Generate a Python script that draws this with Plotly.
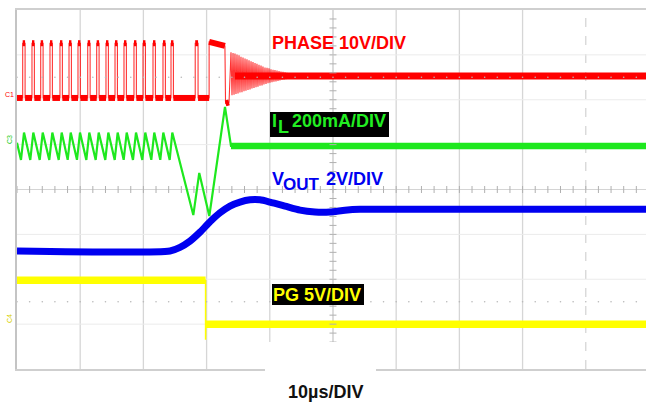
import plotly.graph_objects as go

# ---------------- data (time in µs, 10 µs/div; levels in screen divisions) ----------------
T_END = 99.53

# PHASE 10V/DIV
PHASE_LOW = 2.04
PHASE_HIGH = 3.26
PHASE_PULSE_START = [0.90, 2.37, 3.75, 5.22, 6.80, 8.23, 9.65, 11.19, 12.61, 14.08,
                     15.51, 16.93, 18.51, 19.94, 21.52, 23.10, 24.37, 28.20]
PHASE_PULSE_END = [1.28, 2.75, 4.13, 5.60, 7.18, 8.61, 10.03, 11.57, 12.99, 14.46,
                   15.89, 17.31, 18.89, 20.32, 21.90, 23.48, 24.75, 28.65]
PHASE_PLATEAU_T = [30.40, 32.90]
PHASE_PLATEAU_V = [3.29, 3.20]
PHASE_DIP_T = [33.00, 33.55]
PHASE_DIP_V = [1.92, 1.94]
PHASE_RING_T = [33.86, 34.02, 34.18, 34.34, 34.49, 34.65, 34.81, 34.97, 35.13, 35.28,
                35.44, 35.60, 35.76, 35.92, 36.08, 36.23, 36.39, 36.55, 36.71, 36.87,
                37.03, 37.18, 37.34, 37.50, 37.66, 37.82, 37.97, 38.13, 38.29, 38.45,
                38.61, 38.77, 38.92, 39.08, 39.24, 39.40, 39.56, 39.72, 39.87, 40.03,
                40.19, 40.35, 40.51, 40.66, 40.82, 40.98, 41.14, 41.30, 41.46, 41.61,
                41.77, 41.93, 42.09, 42.25, 42.41, 42.56, 42.72, 42.88, 43.04, 43.20]
PHASE_RING_V = [3.06, 2.10, 3.04, 2.11, 3.03, 2.13, 3.01, 2.14, 2.99, 2.16,
                2.96, 2.17, 2.94, 2.19, 2.92, 2.20, 2.90, 2.22, 2.88, 2.23,
                2.86, 2.25, 2.84, 2.26, 2.82, 2.28, 2.80, 2.29, 2.78, 2.31,
                2.76, 2.32, 2.74, 2.34, 2.72, 2.35, 2.71, 2.37, 2.70, 2.38,
                2.68, 2.39, 2.67, 2.40, 2.66, 2.41, 2.65, 2.42, 2.64, 2.43,
                2.63, 2.44, 2.62, 2.45, 2.61, 2.46, 2.60, 2.47, 2.59, 2.48]
PHASE_SETTLED = 2.53
PHASE_SETTLED_FROM = 34.5

# IL 200mA/DIV
IL_T = [0.00, 0.63, 1.11, 2.10, 2.58, 3.59, 4.07, 5.11, 5.59, 6.60, 7.07, 8.02, 8.50,
        9.49, 9.97, 10.97, 11.44, 12.45, 12.93, 13.97, 14.45, 15.46, 15.93, 16.88, 17.36,
        18.35, 18.83, 19.83, 20.30, 21.25, 21.72, 22.67, 23.15, 24.16, 24.57,
        27.90, 28.84, 30.43, 32.91, 33.86, T_END]
IL_V = [1.04, 0.66, 1.27, 0.66, 1.27, 0.66, 1.27, 0.66, 1.27, 0.66, 1.27, 0.66, 1.27,
        0.66, 1.27, 0.66, 1.27, 0.66, 1.27, 0.66, 1.27, 0.66, 1.27, 0.66, 1.27,
        0.66, 1.27, 0.66, 1.27, 0.66, 1.27, 0.66, 1.27, 0.66, 1.27,
        -0.57, 0.37, -0.59, 1.84, 0.97, 0.97]
IL_SETTLED_FROM = 33.86
IL_SETTLED = 0.97

# VOUT 2V/DIV
VOUT_T = [0.00, 24.21, 25.79, 27.37, 28.96, 30.54, 32.12, 33.70, 35.28, 36.87, 38.45,
          40.03, 42.41, 44.78, 47.15, 49.53, 51.90, 54.27, T_END]
VOUT_V = [-1.37, -1.37, -1.29, -1.15, -0.95, -0.72, -0.52, -0.37, -0.28, -0.23, -0.23,
          -0.28, -0.37, -0.46, -0.50, -0.50, -0.46, -0.44, -0.44]

# PG 5V/DIV
PG_T = [0.00, 29.84, 29.84, 29.88, T_END]
PG_V = [-2.02, -2.02, -3.35, -3.00, -3.00]

# ---------------- layout geometry helpers (pixel -> axis / paper) ----------------
W, H = 646, 405
ML, MR, MT, MB = 17, 0, 10, 36
PW, PH = W - ML - MR, H - MT - MB


def paper_x(px):
    return (px - ML) / PW


def paper_y(py):
    return 1 - (py - MT) / PH


RED = "#ff0000"
GREEN = "#1ee81e"
BLUE = "#0000f0"
YELLOW = "#ffff00"

fig = go.Figure()

# ---- PHASE thin waveform
px_, py_ = [0.0], [PHASE_LOW]
for s, e in zip(PHASE_PULSE_START, PHASE_PULSE_END):
    px_ += [s, s, e, e]
    py_ += [PHASE_LOW, PHASE_HIGH, PHASE_HIGH, PHASE_LOW]
px_ += [PHASE_PLATEAU_T[0], PHASE_PLATEAU_T[0], PHASE_PLATEAU_T[1]] + PHASE_DIP_T + PHASE_RING_T + [T_END]
py_ += [PHASE_LOW, PHASE_PLATEAU_V[0], PHASE_PLATEAU_V[1]] + PHASE_DIP_V + PHASE_RING_V + [PHASE_SETTLED]
fig.add_trace(go.Scatter(x=px_, y=py_, mode="lines", line=dict(color="rgba(255,0,0,0.8)", width=1.1),
                         hoverinfo="skip"))

# ---- PHASE thick levels
tx, ty = [], []
prev = 0.0
for s, e in zip(PHASE_PULSE_START, PHASE_PULSE_END):
    tx += [prev, s, None, s, e, None]
    ty += [PHASE_LOW, PHASE_LOW, None, PHASE_HIGH, PHASE_HIGH, None]
    prev = e
tx += [prev, PHASE_PLATEAU_T[0], None, PHASE_PLATEAU_T[0], PHASE_PLATEAU_T[1], None,
       PHASE_DIP_T[0], PHASE_DIP_T[1], None]
ty += [PHASE_LOW, PHASE_LOW, None, PHASE_PLATEAU_V[0], PHASE_PLATEAU_V[1], None,
       PHASE_DIP_V[0], PHASE_DIP_V[1], None]
fig.add_trace(go.Scatter(x=tx, y=ty, mode="lines", line=dict(color=RED, width=6),
                         hoverinfo="skip"))
fig.add_trace(go.Scatter(x=[PHASE_SETTLED_FROM, T_END], y=[PHASE_SETTLED, PHASE_SETTLED], mode="lines",
                         line=dict(color=RED, width=7), hoverinfo="skip"))

# ---- IL
fig.add_trace(go.Scatter(x=IL_T, y=IL_V, mode="lines", line=dict(color=GREEN, width=2.2),
                         hoverinfo="skip"))
fig.add_trace(go.Scatter(x=[IL_SETTLED_FROM, T_END], y=[IL_SETTLED, IL_SETTLED], mode="lines",
                         line=dict(color=GREEN, width=6.5), hoverinfo="skip"))

# ---- VOUT
fig.add_trace(go.Scatter(x=VOUT_T, y=VOUT_V, mode="lines",
                         line=dict(color=BLUE, width=7, shape="spline", smoothing=0.6),
                         hoverinfo="skip"))

# ---- PG
fig.add_trace(go.Scatter(x=PG_T, y=PG_V, mode="lines", line=dict(color=YELLOW, width=1.5),
                         hoverinfo="skip"))
fig.add_trace(go.Scatter(x=[PG_T[0], PG_T[1], None, PG_T[3], PG_T[4]],
                         y=[PG_V[0], PG_V[1], None, PG_V[3], PG_V[4]], mode="lines",
                         line=dict(color=YELLOW, width=7.5), hoverinfo="skip"))

# trigger marker
fig.add_trace(go.Scatter(x=[PG_T[1]], y=[-4.08], mode="markers", cliponaxis=False,
                         marker=dict(symbol="triangle-up", size=6, color="#e8d800"),
                         hoverinfo="skip"))

# ---- center crosshair ticks
tick_x = [i * 2.0 for i in range(0, 50)]
fig.add_trace(go.Scatter(x=tick_x, y=[0] * len(tick_x), mode="markers",
                         marker=dict(symbol="line-ns", size=5, line=dict(color="#b0b0b0", width=1)),
                         hoverinfo="skip"))
tick_y = [-4 + i * 0.2 for i in range(1, 40)]
fig.add_trace(go.Scatter(x=[50] * len(tick_y), y=tick_y, mode="markers",
                         marker=dict(symbol="line-ew", size=5, line=dict(color="#b0b0b0", width=1)),
                         hoverinfo="skip"))
for yy in (2.5, -2.5):
    fig.add_trace(go.Scatter(x=tick_x, y=[yy] * len(tick_x), mode="markers",
                             marker=dict(symbol="circle", size=1.6, color="#b8b8b8"),
                             hoverinfo="skip"))

# ---- grid shapes
shapes = []
for k in range(1, 10):
    shapes.append(dict(type="line", xref="x", yref="y", x0=k * 10, x1=k * 10, y0=-4, y1=4,
                       layer="below",
                       line=dict(color="#d6d6d6" if k != 5 else "#c8c8c8", width=1.3,
                                 dash="dash" if k == 9 else "solid")))
for j in (-3, -2, -1, 0, 1, 2, 3):
    shapes.append(dict(type="line", xref="x", yref="y", x0=0, x1=T_END, y0=j, y1=j, layer="below",
                       line=dict(color="#ebebeb" if j != 0 else "#d4d4d4", width=1)))
# white patch behind the time-base label
shapes.append(dict(type="rect", xref="paper", yref="paper", x0=paper_x(265), x1=paper_x(376),
                   y0=paper_y(405), y1=paper_y(342), fillcolor="white", line=dict(width=0), layer="above"))
# black label boxes
shapes.append(dict(type="rect", xref="paper", yref="paper", x0=paper_x(270), x1=paper_x(389),
                   y0=paper_y(137), y1=paper_y(112), fillcolor="black", line=dict(width=0), layer="above"))
shapes.append(dict(type="rect", xref="paper", yref="paper", x0=paper_x(272), x1=paper_x(364),
                   y0=paper_y(305), y1=paper_y(284), fillcolor="black", line=dict(width=0), layer="above"))

FONT = "Liberation Sans, Arial, sans-serif"


def label(text, px, py, color, size=18, anchor="left", angle=0, weight=700):
    return dict(text=text, x=paper_x(px), y=paper_y(py), xref="paper", yref="paper", showarrow=False,
                xanchor=anchor, yanchor="middle", textangle=angle,
                font=dict(family=FONT, size=size, color=color, weight=weight))


annotations = [
    label("PHASE 10V/DIV", 269.5, 42.7, RED),
    label("I", 269.5, 121, "#22ee22"),
    label("L", 276, 126.5, "#22ee22"),
    label("200mA/DIV", 289.8, 121, "#22ee22"),
    label("V", 269.5, 179, BLUE),
    label("OUT", 280.5, 184.5, BLUE, size=17),
    label("2V/DIV", 323.5, 179, BLUE),
    label("PG 5V/DIV", 271, 295, YELLOW),
    label("10µs/DIV", 325.5, 392, "#111111", anchor="center"),
    label("C1", 9, 95, RED, size=7, anchor="center", weight=400),
    label("C3", 9, 140, "#22cc22", size=7, anchor="center", angle=-90, weight=400),
    label("C4", 9, 319, "#d8d000", size=7, anchor="center", angle=-90, weight=400),
]

fig.update_layout(
    width=W, height=H,
    margin=dict(l=ML, r=MR, t=MT, b=MB, pad=0),
    paper_bgcolor="white", plot_bgcolor="white",
    showlegend=False,
    shapes=shapes,
    annotations=annotations,
    xaxis=dict(range=[0, T_END], showgrid=False, zeroline=False, showticklabels=False,
               ticks="", showline=True, linecolor="#cfcfcf", linewidth=2, mirror=True),
    yaxis=dict(range=[-4, 4], showgrid=False, zeroline=False, showticklabels=False,
               ticks="", showline=True, linecolor="#c4c4c4", linewidth=2, mirror=False),
)

fig.write_html("out.html", config={"displayModeBar": False},
               post_script="document.body.style.margin='0';document.body.style.overflow='hidden';")
